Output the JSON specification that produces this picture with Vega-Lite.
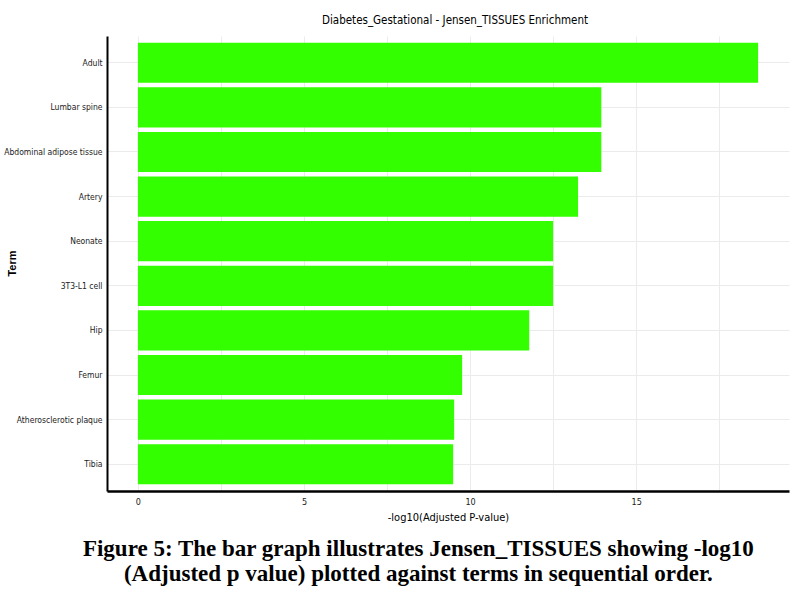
{
  "$schema": "https://vega.github.io/schema/vega-lite/v6.json",
  "background": "white",
  "padding": {"left": 3, "top": 14, "right": 16, "bottom": 5},
  "title": {
    "text": ["Figure 5: The bar graph illustrates Jensen_TISSUES showing -log10", "(Adjusted p value) plotted against terms in sequential order."],
    "orient": "bottom",
    "anchor": "middle",
    "font": "Liberation Serif",
    "fontSize": 23,
    "fontWeight": "bold",
    "color": "black",
    "lineHeight": 25,
    "offset": 16,
    "dx": 22
  },
  "config": {
    "view": {"stroke": null},
    "concat": {"spacing": 0}
  },
  "vconcat": [
    {
      "width": 682,
      "height": 455,
      "title": {
        "text": "Diabetes_Gestational - Jensen_TISSUES Enrichment",
        "font": "DejaVu Sans Condensed, sans-serif",
        "fontSize": 11.5,
        "fontWeight": "normal",
        "color": "black",
        "anchor": "middle",
        "offset": 10,
        "dx": 7
      },
      "data": {
        "values": [
          {"term": "Adult", "value": 18.67},
          {"term": "Lumbar spine", "value": 13.95},
          {"term": "Abdominal adipose tissue", "value": 13.95},
          {"term": "Artery", "value": 13.25},
          {"term": "Neonate", "value": 12.5},
          {"term": "3T3-L1 cell", "value": 12.5},
          {"term": "Hip", "value": 11.78},
          {"term": "Femur", "value": 9.76},
          {"term": "Atherosclerotic plaque", "value": 9.52},
          {"term": "Tibia", "value": 9.49}
        ]
      },
      "mark": {"type": "bar", "color": "#33ff00"},
      "encoding": {
        "y": {
          "field": "term",
          "type": "nominal",
          "sort": null,
          "title": "Term",
          "scale": {"paddingInner": 0.1, "paddingOuter": 0.15},
          "axis": {
            "domainColor": "black",
            "domainWidth": 2,
            "ticks": false,
            "grid": true,
            "gridColor": "#ebebeb",
            "gridWidth": 1,
            "bandPosition": 0.5,
            "labelFont": "DejaVu Sans Condensed, sans-serif",
            "labelFontSize": 8.5,
            "labelColor": "#222",
            "labelPadding": 5,
            "titleFont": "Liberation Sans, sans-serif",
            "titleFontSize": 11,
            "titleFontWeight": "bold",
            "titleColor": "black",
            "titleX": -90,
            "titleY": 227
          }
        },
        "x": {
          "field": "value",
          "type": "quantitative",
          "title": "-log10(Adjusted P-value)",
          "scale": {"domain": [-0.93, 19.6], "nice": false, "zero": false},
          "axis": {
            "values": [0, 2.5, 5, 7.5, 10, 12.5, 15, 17.5],
            "labelExpr": "datum.value % 5 == 0 ? datum.label : ''",
            "domainColor": "black",
            "domainWidth": 2.5,
            "ticks": false,
            "grid": true,
            "gridColor": "#ebebeb",
            "gridWidth": 1,
            "labelFont": "DejaVu Sans Condensed, sans-serif",
            "labelFontSize": 9,
            "labelColor": "#222",
            "labelPadding": 6,
            "titleFont": "DejaVu Sans Condensed, sans-serif",
            "titleFontSize": 11,
            "titleFontWeight": "normal",
            "titleColor": "black",
            "titlePadding": 5
          }
        }
      }
    }
  ]
}
